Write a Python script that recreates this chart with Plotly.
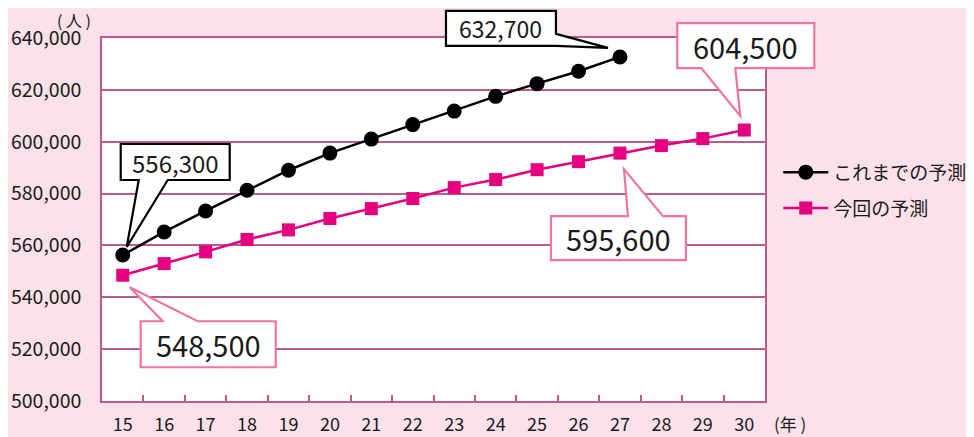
import plotly.graph_objects as go

# ---- data ----
years = ["15", "16", "17", "18", "19", "20", "21", "22", "23", "24", "25", "26", "27", "28", "29", "30"]
prev_name = "これまでの予測"
prev_vals = [556300, 565200, 573300, 581300, 589000, 595600, 601000, 606600,
             611800, 617500, 622400, 627200, 632700]
new_name = "今回の予測"
new_vals = [548500, 553000, 557500, 562300, 566000, 570400, 574200, 578100,
            582300, 585400, 589200, 592300, 595600, 598500, 601200, 604500]
y_unit = "( 人 )"
x_unit = "(年 )"
y_min, y_max, y_step = 500000, 640000, 20000

# ---- style ----
BG = "#fbe1ea"
GRID = "#bb5a8c"
PINK = "#e4007f"
PINK_BOX = "#ef74a2"
FONT = "Noto Sans CJK JP"
TXT = "#1a1a1a"

fig = go.Figure()
fig.add_trace(go.Scatter(x=years[:len(prev_vals)], y=prev_vals, name=prev_name,
                         mode="lines+markers", line=dict(color="black", width=2.5),
                         marker=dict(symbol="circle", size=15, color="black"),
                         legend="legend", showlegend=True))
fig.add_trace(go.Scatter(x=years, y=new_vals, name=new_name,
                         mode="lines+markers", line=dict(color=PINK, width=2.5),
                         marker=dict(symbol="square", size=13, color=PINK),
                         legend="legend2", showlegend=True))

# callout bubbles: (series values, index, border colour, font size,
#  box x0,x1,y0,y1 (px, relative to point, y up), wedge side, base a,b, tip)
callouts = [
    (prev_vals, 0, "black", 24, (-2, 107, 75, 111), "bottom", (16, 45), (4, 8)),
    (prev_vals, 12, "black", 23, (-174, -64, 11, 46), "right", (23, 11), (-12, 9)),
    (new_vals, 0, PINK_BOX, 29, (18, 153, -92, -46), "top", (40, 75), (7, -12)),
    (new_vals, 12, PINK_BOX, 29, (-69, 66, -107, -63), "top", (8, 43), (4, -16)),
    (new_vals, 15, PINK_BOX, 29, (-67, 70, 62, 107), "bottom", (-43, -9), (-4, 14)),
]

shapes = []
annotations = []
n = len(years)
for vals, idx, col, fs, (x0, x1, y0, y1), side, (a, b), (tx, ty) in callouts:
    if side == "bottom":
        pts = [(x0, y1), (x1, y1), (x1, y0), (b, y0), (tx, ty), (a, y0), (x0, y0)]
    elif side == "top":
        pts = [(x0, y1), (a, y1), (tx, ty), (b, y1), (x1, y1), (x1, y0), (x0, y0)]
    else:  # right
        pts = [(x0, y1), (x1, y1), (x1, a), (tx, ty), (x1, b), (x1, y0), (x0, y0)]
    path = "M" + " L".join(f"{px},{py}" for px, py in pts) + " Z"
    shapes.append(dict(type="path", path=path, xref="paper", yref="paper",
                       xsizemode="pixel", ysizemode="pixel",
                       xanchor=(idx + 0.5) / n,
                       yanchor=(vals[idx] - y_min) / (y_max - y_min),
                       fillcolor="white", line=dict(color=col, width=2.2),
                       layer="above"))
    annotations.append(dict(x=idx, y=vals[idx], xref="x", yref="y",
                            text=f"{vals[idx]:,}", showarrow=False,
                            xshift=(x0 + x1) / 2, yshift=(y0 + y1) / 2,
                            font=dict(family=FONT, size=fs, color=TXT)))

annotations.append(dict(x=-0.042, y=1.05, xref="paper", yref="paper", text=y_unit,
                        xanchor="center", yanchor="middle",
                        showarrow=False, font=dict(family=FONT, size=16, color=TXT)))
annotations.append(dict(x=1.038, y=-0.062, xref="paper", yref="paper", text=x_unit,
                        xanchor="center", yanchor="middle",
                        showarrow=False, font=dict(family=FONT, size=17, color=TXT)))

# page body has an 8px margin: size the figure to fit the 974x437 window
fig.update_layout(
    width=966, height=429,
    margin=dict(l=94, r=209, t=30, b=36, autoexpand=False),
    paper_bgcolor=BG, plot_bgcolor="white",
    font=dict(family=FONT, color=TXT),
    shapes=shapes, annotations=annotations,
    showlegend=True,
    legend=dict(x=1.02, y=0.63, xanchor="left", yanchor="middle",
                bgcolor="rgba(0,0,0,0)", itemwidth=45,
                font=dict(family=FONT, size=19, color=TXT)),
    legend2=dict(x=1.02, y=0.531, xanchor="left", yanchor="middle",
                 bgcolor="rgba(0,0,0,0)", itemwidth=45,
                 font=dict(family=FONT, size=19, color=TXT)),
    xaxis=dict(type="category", range=[-0.5, n - 0.5], tickson="boundaries",
               ticks="inside", ticklen=6, tickcolor=GRID, tickwidth=1.5,
               showgrid=False, showline=True, linecolor=GRID, linewidth=1.6,
               mirror=True, ticklabelstandoff=7,
               tickfont=dict(family=FONT, size=18, color=TXT)),
    yaxis=dict(range=[y_min, y_max], dtick=y_step, tickformat=",",
               showgrid=True, gridcolor=GRID, gridwidth=1.6, zeroline=False,
               showline=True, linecolor=GRID, linewidth=1.6, mirror=True,
               ticks="", ticklabelstandoff=15,
               tickfont=dict(family=FONT, size=19.5, color=TXT)),
)

fig.write_html("out.html")
